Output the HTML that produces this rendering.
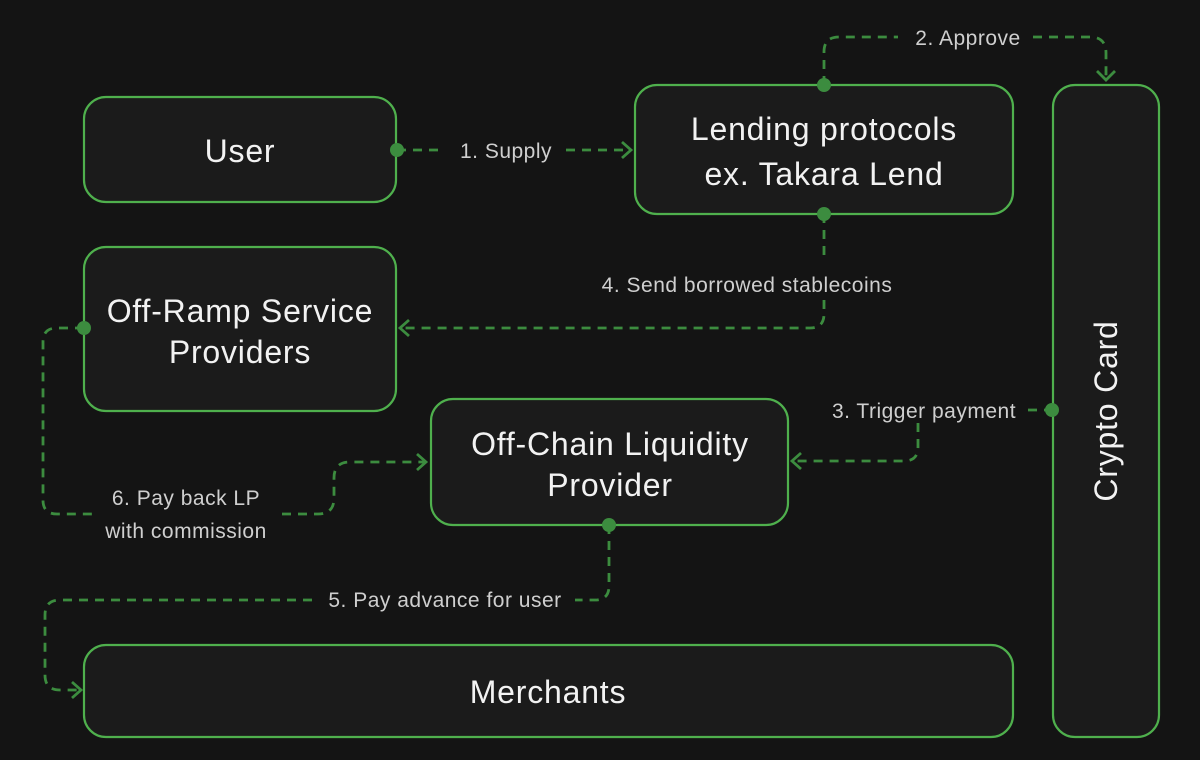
<!DOCTYPE html>
<html><head><meta charset="utf-8"><style>
html,body{margin:0;padding:0;background:#141414;}
svg{display:block;}
.box{fill:#1b1b1b;stroke:#4fb04d;stroke-width:2.2;}
.t{font-family:"Liberation Sans",sans-serif;fill:#f2f2f2;font-size:32px;letter-spacing:0.8px;text-anchor:middle;}
.l{font-family:"Liberation Sans",sans-serif;fill:#cfcfcf;font-size:21px;letter-spacing:0.5px;text-anchor:middle;}
.c{fill:none;stroke:#3c8c3f;stroke-width:2.8;stroke-dasharray:9 7;}
.a{fill:none;stroke:#3c8c3f;stroke-width:2.8;}
.d{fill:#3c8c3f;}
</style></head><body>
<svg width="1200" height="760" viewBox="0 0 1200 760" xmlns="http://www.w3.org/2000/svg">
<rect width="1200" height="760" fill="#141414"/>
<rect class="box" x="84" y="97" width="312" height="105" rx="22"/>
<rect class="box" x="635" y="85" width="378" height="129" rx="22"/>
<rect class="box" x="1053" y="85" width="106" height="652" rx="22"/>
<rect class="box" x="84" y="247" width="312" height="164" rx="22"/>
<rect class="box" x="431" y="399" width="357" height="126" rx="22"/>
<rect class="box" x="84" y="645" width="929" height="92" rx="22"/>
<text class="t" x="240" y="162">User</text>
<text class="t" x="824" y="140">Lending protocols</text>
<text class="t" x="824" y="185">ex. Takara Lend</text>
<text class="t" x="240" y="322">Off-Ramp Service</text>
<text class="t" x="240" y="363">Providers</text>
<text class="t" x="610" y="455">Off-Chain Liquidity</text>
<text class="t" x="610" y="496">Provider</text>
<text class="t" x="548" y="703">Merchants</text>
<text class="t" transform="translate(1117,411) rotate(-90)">Crypto Card</text>
<path class="c" d="M397 150 H445"/>
<path class="c" d="M566 150 H630"/>
<path class="a" d="M622 142 L631 150 L622 158"/>
<circle class="d" cx="397" cy="150" r="7"/>
<text class="l" x="506" y="158">1. Supply</text>
<path class="c" d="M824 85 V52 Q824 37 839 37 H898"/>
<path class="c" d="M1033 37 H1090 Q1106 37 1106 53 V80"/>
<path class="a" d="M1097 71 L1106 80 L1115 71"/>
<circle class="d" cx="824" cy="85" r="7"/>
<text class="l" x="968" y="45">2. Approve</text>
<path class="c" d="M1053 410 H1028"/>
<path class="c" d="M918 423 V447 Q918 461 904 461 H793"/>
<path class="a" d="M801 453 L792 461 L801 469"/>
<circle class="d" cx="1052" cy="410" r="7"/>
<text class="l" x="924" y="418">3. Trigger payment</text>
<path class="c" d="M824 214 V262"/>
<path class="c" d="M824 300 V314 Q824 328 810 328 H401"/>
<path class="a" d="M409 320 L400 328 L409 336"/>
<circle class="d" cx="824" cy="214" r="7"/>
<text class="l" x="747" y="292">4. Send borrowed stablecoins</text>
<path class="c" d="M609 525 V586 Q609 600 595 600 H575"/>
<path class="c" d="M312 600 H60 Q45 600 45 615 V675 Q45 690 60 690 H80"/>
<path class="a" d="M72 682 L81 690 L72 698"/>
<circle class="d" cx="609" cy="525" r="7"/>
<text class="l" x="445" y="607">5. Pay advance for user</text>
<path class="c" d="M84 328 H57 Q43 328 43 342 V500 Q43 514 57 514 H92"/>
<path class="c" d="M282 514 H318 Q334 514 334 498 V478 Q334 462 350 462 H425"/>
<path class="a" d="M417 454 L426 462 L417 470"/>
<circle class="d" cx="84" cy="328" r="7"/>
<text class="l" x="186" y="505">6. Pay back LP</text>
<text class="l" x="186" y="538">with commission</text>
</svg>
</body></html>
